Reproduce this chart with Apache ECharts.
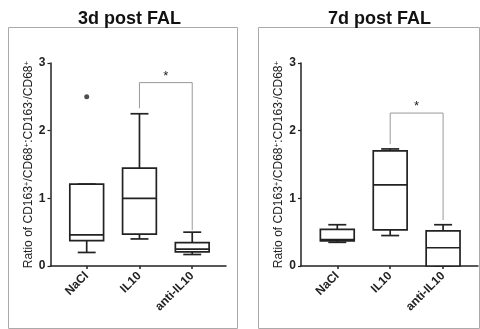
<!DOCTYPE html>
<html>
<head>
<meta charset="utf-8">
<script src="https://cdn.jsdelivr.net/npm/echarts@6/dist/echarts.min.js"></script>
<style>
html,body{margin:0;padding:0;background:#fff;}
#c{width:480px;height:329px;}
</style>
</head>
<body>
<div id="c"></div>
<script>
// ---- data ----
const categories = ['NaCl', 'IL10', 'anti-IL10'];
const panelTitles = ['3d post FAL', '7d post FAL'];
const yTicks = [0, 1, 2, 3];
// [min, Q1, median, Q3, max]
const box3d = [
  [0.20, 0.375, 0.46, 1.21, 1.21],
  [0.40, 0.47, 1.00, 1.445, 2.25],
  [0.17, 0.21, 0.25, 0.345, 0.50]
];
const outliers3d = [[0, 2.50]];
const box7d = [
  [0.35, 0.37, 0.39, 0.54, 0.61],
  [0.45, 0.533, 1.20, 1.70, 1.73],
  [0.00, 0.00, 0.27, 0.52, 0.61]
];
const outliers7d = [];
// [fromCategory, toCategory, bracketTop, leftLegBottom, rightLegBottom]
const sig3d = [1, 2, 2.71, 2.33, 0.53];
const sig7d = [1, 2, 2.26, 1.80, 0.68];
const sigLabel = '*';

const yName = 'Ratio of CD163{s|+}/CD68{s|+}:CD163{s|-}/CD68{s|+}';

const INK = '#222';
const FONT = '"Liberation Sans", Arial, sans-serif';

function boxItem(params, api) {
  const x = api.value(0);
  const mn = api.value(1), q1 = api.value(2), md = api.value(3), q3 = api.value(4), mx = api.value(5);
  const unit = api.size([1, 0])[0];
  const bw = unit * 0.64, cw = unit * 0.34;
  const pQ3 = api.coord([x, q3]), pQ1 = api.coord([x, q1]), pMd = api.coord([x, md]);
  const pMn = api.coord([x, mn]), pMx = api.coord([x, mx]);
  const cx = pQ3[0];
  const st = { stroke: INK, lineWidth: 1.7, fill: null };
  return {
    type: 'group',
    children: [
      { type: 'line', shape: { x1: cx, y1: pQ3[1], x2: cx, y2: pMx[1] }, style: st },
      { type: 'line', shape: { x1: cx, y1: pQ1[1], x2: cx, y2: pMn[1] }, style: st },
      { type: 'line', shape: { x1: cx - cw / 2, y1: pMx[1], x2: cx + cw / 2, y2: pMx[1] }, style: st },
      { type: 'line', shape: { x1: cx - cw / 2, y1: pMn[1], x2: cx + cw / 2, y2: pMn[1] }, style: st },
      { type: 'rect', shape: { x: cx - bw / 2, y: pQ3[1], width: bw, height: pQ1[1] - pQ3[1] },
        style: { stroke: INK, lineWidth: 1.7, fill: '#fff' } },
      { type: 'line', shape: { x1: cx - bw / 2, y1: pMd[1], x2: cx + bw / 2, y2: pMd[1] }, style: st }
    ]
  };
}

function sigItem(params, api) {
  const a = api.value(0), b = api.value(1), top = api.value(2), lb = api.value(3), rb = api.value(4);
  const pA = api.coord([a, top]), pB = api.coord([b, top]);
  const pAL = api.coord([a, lb]), pBL = api.coord([b, rb]);
  const st = { stroke: '#999', lineWidth: 1, fill: null };
  return {
    type: 'group',
    children: [
      { type: 'polyline', shape: { points: [[pAL[0], pAL[1]], [pA[0], pA[1]], [pB[0], pB[1]], [pBL[0], pBL[1]]] }, style: st },
      { type: 'text', style: { text: sigLabel, x: (pA[0] + pB[0]) / 2, y: pA[1], textAlign: 'center', textVerticalAlign: 'bottom',
        font: '13px ' + FONT, fill: INK } }
    ]
  };
}

const grids = [
  { left: 50.5, right: 254, top: 63, bottom: 63 },
  { left: 301, right: 2, top: 63, bottom: 63 }
];

const xAxes = grids.map((g, i) => ({
  type: 'value', gridIndex: i, min: -0.686, max: i === 0 ? 2.64 : 2.66,
  splitLine: { show: false },
  axisLine: { show: true, onZero: false, lineStyle: { color: INK, width: 1.5 } },
  axisTick: { show: true, customValues: [0, 1, 2], length: 3, lineStyle: { color: INK, width: 1.5 } },
  axisLabel: { customValues: [0, 1, 2], rotate: 45, margin: 8, formatter: v => categories[Math.round(v)],
    fontFamily: FONT, fontSize: 12, fontWeight: 'bold', color: INK }
}));

const yAxes = grids.map((g, i) => ({
  type: 'value', gridIndex: i, min: 0, max: 3, interval: 1,
  splitLine: { show: false },
  axisLine: { show: true, onZero: false, lineStyle: { color: INK, width: 1.5 } },
  axisTick: { show: true, length: 3, lineStyle: { color: INK, width: 1.2 } },
  axisLabel: { margin: 5, fontFamily: FONT, fontSize: 12, fontWeight: 'bold', color: INK,
    formatter: v => String(yTicks.find(t => t === v)) },
  name: yName, nameLocation: 'middle', nameGap: 16,
  nameTextStyle: { fontFamily: FONT, fontSize: 12, color: INK,
    rich: { s: { fontFamily: FONT, fontSize: 8, color: INK, verticalAlign: 'top' } } }
}));

const option = {
  animation: false,
  backgroundColor: '#fff',
  title: [
    { text: panelTitles[0], left: 73, top: 5, textStyle: { fontFamily: FONT, fontSize: 18, fontWeight: 'bold', color: '#111' } },
    { text: panelTitles[1], left: 323, top: 5, textStyle: { fontFamily: FONT, fontSize: 18, fontWeight: 'bold', color: '#111' } }
  ],
  graphic: [
    { type: 'rect', shape: { x: 8.5, y: 27.5, width: 229, height: 301 }, style: { stroke: '#aaa', lineWidth: 1, fill: null }, silent: true },
    { type: 'rect', shape: { x: 258.5, y: 27.5, width: 221, height: 301 }, style: { stroke: '#aaa', lineWidth: 1, fill: null }, silent: true }
  ],
  grid: grids,
  xAxis: xAxes,
  yAxis: yAxes,
  series: [
    { type: 'custom', xAxisIndex: 0, yAxisIndex: 0, renderItem: boxItem, clip: false,
      data: box3d.map((b, i) => [i].concat(b)) },
    { type: 'scatter', xAxisIndex: 0, yAxisIndex: 0, symbolSize: 5, itemStyle: { color: INK }, data: outliers3d },
    { type: 'custom', xAxisIndex: 0, yAxisIndex: 0, renderItem: sigItem, clip: false, data: [sig3d] },
    { type: 'custom', xAxisIndex: 1, yAxisIndex: 1, renderItem: boxItem, clip: false,
      data: box7d.map((b, i) => [i].concat(b)) },
    { type: 'scatter', xAxisIndex: 1, yAxisIndex: 1, symbolSize: 5, itemStyle: { color: INK }, data: outliers7d },
    { type: 'custom', xAxisIndex: 1, yAxisIndex: 1, renderItem: sigItem, clip: false, data: [sig7d] }
  ]
};

const chart = echarts.init(document.getElementById('c'), null, { renderer: 'canvas' });
chart.setOption(option);
</script>
</body>
</html>
